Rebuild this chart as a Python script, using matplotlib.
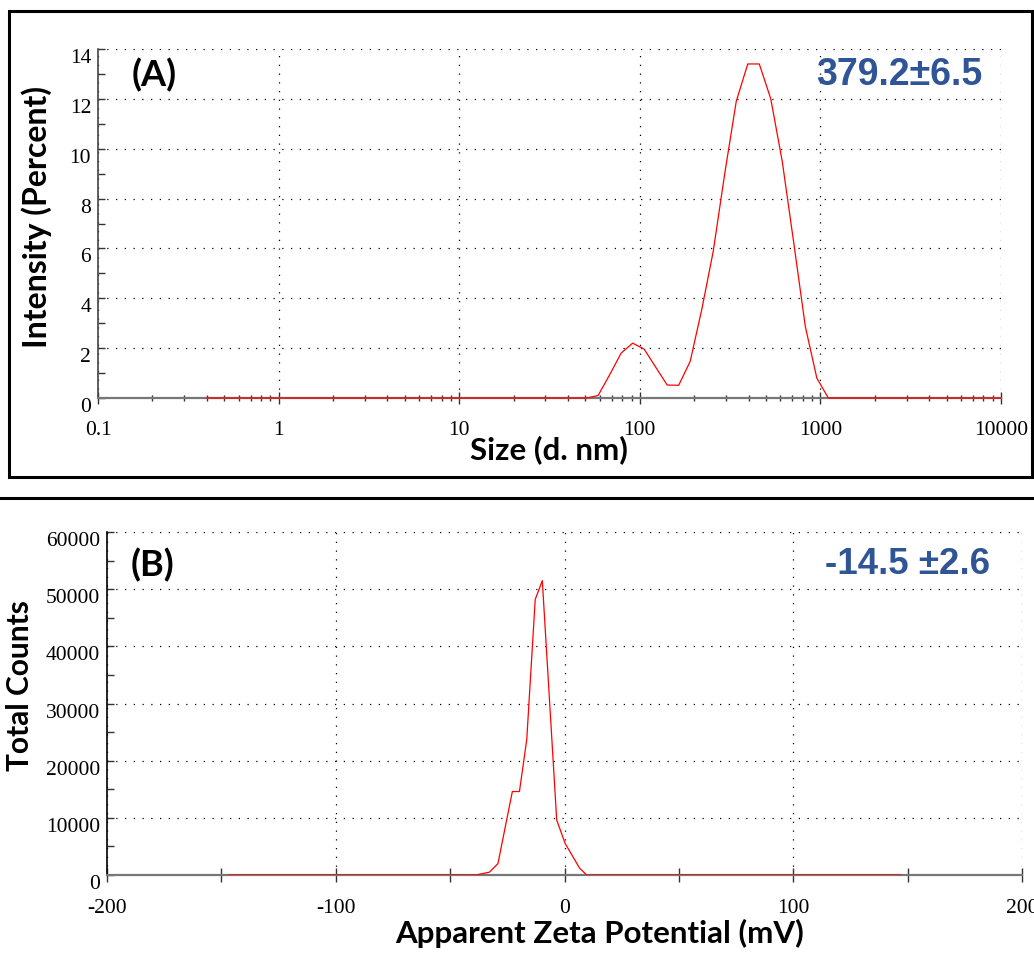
import matplotlib
matplotlib.use("Agg")
import matplotlib.pyplot as plt
from matplotlib.lines import Line2D
from matplotlib.patches import Rectangle
from matplotlib.ticker import FixedLocator, NullFormatter

plt.rcParams["axes.unicode_minus"] = False

# distribucion de tamaño (intensidad %)
size_nm = [0.4, 50.75, 58.77, 68.06, 78.82, 91.28, 105.7, 122.4, 141.8, 164.2,
           190.1, 220.2, 255.0, 295.3, 342.0, 396.1, 458.7, 531.2, 615.1,
           712.4, 825.0, 955.4, 1106, 10000]
intensity = [0, 0, 0.1, 0.93, 1.8, 2.2, 1.96, 1.24, 0.52, 0.51,
             1.47, 3.54, 5.88, 9.0, 11.9, 13.4, 13.4, 12.0, 9.48,
             6.21, 2.87, 0.8, 0, 0]

# distribucion de potencial zeta
zeta_mv = [-147, -38.6, -32.8, -29.1, -22.8, -19.7, -16.5, -12.8, -9.7,
           -3.4, 0.3, 6.6, 9.7, 147]
counts = [0, 0, 500, 2000, 14600, 14600, 23700, 48200, 51500,
          9600, 5500, 1200, 0, 0]

size_ticks = [0.1, 1, 10, 100, 1000, 10000]
size_labels = ["0.1", "1", "10", "100", "1000", "10000"]
zeta_ticks = [-200, -100, 0, 100, 200]

W, H = 1034, 961
fig = plt.figure(figsize=(W / 100, H / 100), dpi=100)


def fx(px):
    return px / W


def fy(py):
    return 1 - py / H


SERIF = "Liberation Serif"
LABEL_FONT = "Lato"
BLUE = "#2F5597"
dots = (0, (1, 6))


def style_axes(ax):
    ax.spines["top"].set_visible(False)
    ax.spines["right"].set_visible(False)
    ax.spines["bottom"].set_color("#777777")
    ax.spines["bottom"].set_linewidth(1.6)
    ax.grid(True, which="major", color="black", linestyle=dots, linewidth=0.9)
    ax.tick_params(axis="y", which="both", direction="in", length=5,
                   width=1, color="#333333", pad=5)
    ax.tick_params(axis="x", which="both", direction="inout", width=1,
                   color="#333333")
    for lbl in ax.get_xticklabels() + ax.get_yticklabels():
        lbl.set_fontfamily(SERIF)
        lbl.set_fontsize(15.5)
    for lbl in ax.get_yticklabels():
        lbl.set_va("top")


# ---- (A) tamaño ----
axA = fig.add_axes([fx(98), fy(398), fx(1001) - fx(98), fy(49) - fy(398)])
axA.plot(size_nm, intensity, color="#ff0000", lw=0.9, zorder=3, clip_on=False)
axA.set_xscale("log")
axA.set_xlim(0.1, 10000)
axA.set_ylim(0, 14)
axA.xaxis.set_major_locator(FixedLocator(size_ticks))
axA.set_xticklabels(size_labels)
minors = [m * 10.0 ** e for e in range(-1, 4) for m in range(2, 10)]
axA.xaxis.set_minor_locator(FixedLocator(minors))
axA.xaxis.set_minor_formatter(NullFormatter())
axA.set_yticks(range(0, 15, 2))
axA.set_yticks(range(1, 14, 2), minor=True)
axA.spines["left"].set_color("#444444")
axA.spines["left"].set_linewidth(1.2)
style_axes(axA)
axA.tick_params(axis="x", which="major", length=9, pad=12)
axA.tick_params(axis="x", which="minor", length=5)

axA.text(0.037, 0.925, "(A)", transform=axA.transAxes, fontsize=26,
         fontweight="bold", family=LABEL_FONT, va="center", ha="left")
axA.text(0.979, 0.925, "379.2±6.5", transform=axA.transAxes, fontsize=27,
         fontweight="bold", family="Liberation Sans", color=BLUE,
         va="center", ha="right")

fig.text(fx(37), fy(217), "Intensity (Percent)", rotation=90, ha="center",
         va="center", fontsize=23, fontweight="bold", family=LABEL_FONT)
fig.text(fx(549), fy(450), "Size (d. nm)", ha="center", va="center",
         fontsize=22.5, fontweight="bold", family=LABEL_FONT)

# ---- (B) potencial zeta ----
axB = fig.add_axes([fx(107), fy(875), fx(1022) - fx(107), fy(532) - fy(875)])
axB.plot(zeta_mv, counts, color="#ff0000", lw=0.9, zorder=3)
axB.set_xlim(-200, 200)
axB.set_ylim(0, 60000)
axB.set_xticks(zeta_ticks)
axB.set_xticks(range(-150, 200, 100), minor=True)
axB.set_yticks(range(0, 60001, 10000))
axB.set_yticks(range(5000, 60000, 10000), minor=True)
axB.spines["left"].set_color("black")
axB.spines["left"].set_linewidth(1.2)
style_axes(axB)
axB.tick_params(axis="x", which="both", length=10, pad=12)

axB.text(0.026, 0.905, "(B)", transform=axB.transAxes, fontsize=26,
         fontweight="bold", family=LABEL_FONT, va="center", ha="left")
axB.text(0.965, 0.904, "-14.5 ±2.6", transform=axB.transAxes, fontsize=26.5,
         fontweight="bold", family="Liberation Sans", color=BLUE,
         va="center", ha="right")

fig.text(fx(20), fy(686), "Total Counts", rotation=90, ha="center",
         va="center", fontsize=21.5, fontweight="bold", family=LABEL_FONT)
fig.text(fx(600), fy(933), "Apparent Zeta Potential (mV)", ha="center",
         va="center", fontsize=22.5, fontweight="bold", family=LABEL_FONT)

# marcos de los paneles
fig.add_artist(Rectangle((fx(9), fy(477)), fx(1032) - fx(9), fy(11) - fy(477),
                         transform=fig.transFigure, fill=False,
                         edgecolor="black", lw=2.2))
fig.add_artist(Line2D([0, 1], [fy(498), fy(498)], transform=fig.transFigure,
                      color="black", lw=2.2))

fig.savefig("out.png", dpi=100)
